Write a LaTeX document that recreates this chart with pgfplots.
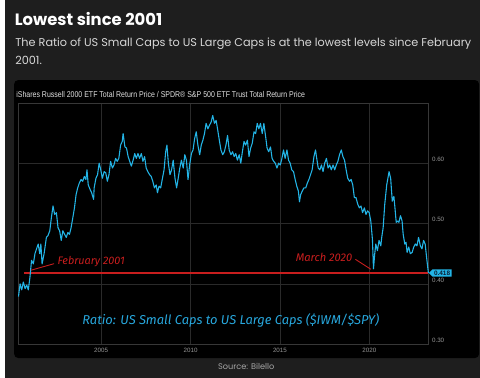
\documentclass[border=0pt]{standalone}
\usepackage{pgfplots}
\pgfplotsset{compat=1.18}
\usepackage{pgfplotstable}
\usepackage{fontspec}
\usepackage{graphicx}
\usetikzlibrary{shapes.symbols}
\setmainfont{Poppins}
\newfontfamily\cond{Liberation Sans}
\newfontfamily\hand{Fira Sans}
\definecolor{bgout}{RGB}{30,30,30}
\definecolor{subc}{RGB}{215,215,215}
\definecolor{headc}{RGB}{225,225,225}
\definecolor{tickc}{RGB}{150,150,150}
\definecolor{gridc}{RGB}{42,42,42}
\definecolor{framec}{RGB}{55,55,55}
\definecolor{linec}{RGB}{35,180,230}
\definecolor{redc}{RGB}{200,30,30}
\definecolor{ratioc}{RGB}{40,168,222}
\definecolor{srcc}{RGB}{165,165,165}
\definecolor{navyc}{RGB}{10,30,50}

\pgfplotstableread{
year value
2000.38 0.379
2000.47 0.400
2000.56 0.390
2000.65 0.403
2000.75 0.392
2000.84 0.398
2000.93 0.390
2001.02 0.411
2001.11 0.439
2001.21 0.433
2001.30 0.450
2001.39 0.458
2001.48 0.466
2001.57 0.450
2001.63 0.466
2001.70 0.433
2001.81 0.450
2001.94 0.477
2002.03 0.480
2002.13 0.488
2002.22 0.510
2002.31 0.529
2002.40 0.515
2002.50 0.518
2002.59 0.493
2002.68 0.488
2002.77 0.472
2002.86 0.488
2002.96 0.482
2003.05 0.477
2003.14 0.485
2003.23 0.482
2003.32 0.493
2003.42 0.510
2003.51 0.526
2003.60 0.548
2003.69 0.559
2003.78 0.567
2003.88 0.573
2003.97 0.570
2004.06 0.578
2004.15 0.573
2004.21 0.589
2004.28 0.564
2004.39 0.556
2004.47 0.551
2004.58 0.540
2004.61 0.559
2004.71 0.575
2004.80 0.581
2004.89 0.600
2004.98 0.589
2005.07 0.575
2005.17 0.586
2005.26 0.584
2005.35 0.570
2005.44 0.581
2005.53 0.603
2005.63 0.592
2005.72 0.597
2005.81 0.608
2005.90 0.603
2005.99 0.608
2006.09 0.630
2006.18 0.636
2006.23 0.649
2006.33 0.627
2006.42 0.625
2006.51 0.611
2006.60 0.603
2006.69 0.595
2006.79 0.605
2006.88 0.616
2006.97 0.608
2007.06 0.616
2007.15 0.608
2007.25 0.616
2007.34 0.603
2007.43 0.611
2007.52 0.592
2007.61 0.586
2007.71 0.581
2007.80 0.578
2007.89 0.570
2007.98 0.559
2008.08 0.564
2008.15 0.551
2008.24 0.562
2008.33 0.559
2008.43 0.575
2008.52 0.589
2008.61 0.619
2008.68 0.630
2008.76 0.600
2008.85 0.581
2008.94 0.589
2009.03 0.605
2009.13 0.575
2009.22 0.559
2009.31 0.575
2009.40 0.592
2009.49 0.605
2009.59 0.592
2009.68 0.614
2009.77 0.605
2009.86 0.573
2009.95 0.597
2010.05 0.616
2010.14 0.622
2010.23 0.641
2010.32 0.652
2010.41 0.630
2010.51 0.614
2010.60 0.630
2010.69 0.638
2010.78 0.649
2010.87 0.666
2010.97 0.657
2011.06 0.663
2011.15 0.668
2011.24 0.679
2011.34 0.666
2011.43 0.671
2011.52 0.655
2011.61 0.638
2011.70 0.622
2011.80 0.614
2011.89 0.619
2011.98 0.630
2012.07 0.646
2012.16 0.622
2012.26 0.614
2012.35 0.619
2012.44 0.611
2012.53 0.616
2012.62 0.605
2012.72 0.614
2012.81 0.600
2012.90 0.619
2012.99 0.636
2013.08 0.630
2013.18 0.638
2013.27 0.611
2013.36 0.625
2013.45 0.633
2013.55 0.652
2013.64 0.649
2013.73 0.666
2013.82 0.657
2013.91 0.666
2014.01 0.649
2014.10 0.666
2014.19 0.646
2014.28 0.625
2014.37 0.619
2014.47 0.627
2014.56 0.608
2014.65 0.603
2014.74 0.600
2014.83 0.592
2014.93 0.600
2015.02 0.597
2015.11 0.608
2015.20 0.622
2015.29 0.608
2015.39 0.622
2015.48 0.605
2015.57 0.600
2015.66 0.589
2015.76 0.586
2015.85 0.573
2015.94 0.562
2016.03 0.554
2016.09 0.536
2016.16 0.548
2016.25 0.554
2016.34 0.559
2016.44 0.559
2016.53 0.567
2016.62 0.573
2016.71 0.581
2016.80 0.589
2016.90 0.611
2016.99 0.622
2017.04 0.611
2017.14 0.592
2017.23 0.589
2017.32 0.597
2017.41 0.586
2017.50 0.600
2017.60 0.608
2017.69 0.592
2017.78 0.597
2017.87 0.589
2017.97 0.597
2018.06 0.589
2018.15 0.597
2018.24 0.603
2018.33 0.614
2018.43 0.622
2018.52 0.611
2018.61 0.605
2018.70 0.589
2018.79 0.575
2018.89 0.570
2018.98 0.573
2019.07 0.564
2019.16 0.543
2019.25 0.543
2019.35 0.532
2019.44 0.526
2019.53 0.529
2019.62 0.518
2019.72 0.526
2019.81 0.515
2019.90 0.521
2019.99 0.518
2020.08 0.504
2020.17 0.474
2020.23 0.425
2020.30 0.450
2020.36 0.466
2020.45 0.455
2020.54 0.472
2020.64 0.463
2020.69 0.477
2020.77 0.493
2020.86 0.532
2020.97 0.564
2021.10 0.586
2021.19 0.575
2021.28 0.537
2021.37 0.545
2021.43 0.526
2021.50 0.502
2021.58 0.504
2021.65 0.502
2021.74 0.513
2021.83 0.504
2021.89 0.482
2021.98 0.466
2022.05 0.469
2022.11 0.452
2022.20 0.461
2022.29 0.450
2022.39 0.452
2022.48 0.461
2022.57 0.466
2022.66 0.463
2022.75 0.477
2022.85 0.463
2022.94 0.458
2023.03 0.472
2023.12 0.466
2023.21 0.441
2023.30 0.418
}\ratiodata

\newsavebox\subbox
\newcommand\subfont{\fontsize{12}{14}\selectfont}

\begin{document}
\sbox\subbox{\color{subc}\subfont The Ratio of US Small Caps to US Large Caps is at the lowest levels since February}
\pgfmathsetmacro\subscale{461/\wd\subbox}
\begin{tikzpicture}
\path[fill=bgout] (0,0) rectangle (480pt,382pt);
\path[fill=black, rounded corners=4pt] (9pt,20pt) rectangle (479pt,301pt);
% title
\node[anchor=west, inner sep=0pt, text=white] at (9.5pt,362.5pt)
  {\resizebox{149pt}{!}{\bfseries Lowest since 2001}};
\node[anchor=west, inner sep=0pt, text=subc] at (10pt,338pt)
  {\scalebox{\subscale}{\usebox\subbox}};
\node[anchor=west, inner sep=0pt, text=subc] at (10pt,321pt)
  {\scalebox{\subscale}{\color{subc}\subfont 2001.}};
\node[anchor=west, inner sep=0pt, text=headc] at (11pt,286pt)
  {\resizebox{292pt}{\height}{\cond\fontsize{8.5}{10}\selectfont iShares Russell 2000 ETF Total Return Price / SPDR\textregistered{} S\&P 500 ETF Trust Total Return Price}};
\node[inner sep=0pt, text=srcc] at (243.6pt,11pt)
  {\resizebox{57pt}{!}{\fontsize{9}{10}\selectfont Source: Bilello}};
\begin{axis}[
  at={(13pt,34pt)}, anchor=south west,
  width=415pt, height=244pt, scale only axis,
  xmin=2000.36, xmax=2023.31, ymin=0.30, ymax=0.70,
  xtick={2005,2010,2015,2020}, xticklabels={2005,2010,2015,2020},
  ytick={0.3,0.4,0.5,0.6}, yticklabels={0.30,0.40,0.50,0.60},
  yticklabel pos=right,
  grid=major,
  major grid style={draw=gridc, line width=0.6pt},
  axis line style={draw=framec, line width=0.6pt},
  tick style={draw=none},
  ticklabel style={font=\cond\fontsize{6.3}{7}\selectfont, text=tickc},
  yticklabel style={anchor=west, yshift=4pt, xshift=0pt},
  clip=false,
]
\addplot[redc, line width=1.8pt] coordinates {(2000.69,0.418) (2023.30,0.418)};
\addplot[linec, line width=1.1pt, line join=round] table[x=year, y=value] {\ratiodata};
\draw[redc, line width=0.9pt] (axis cs:2001.08,0.4226) -- (axis cs:2002.37,0.4334);
\node[anchor=west, inner sep=0pt, text=redc] at (axis cs:2002.55,0.4367)
  {\resizebox{68pt}{!}{\hand\itshape February 2001}};
\draw[redc, line width=0.9pt] (axis cs:2019.22,0.4406) -- (axis cs:2020.08,0.4242);
\node[anchor=east, inner sep=0pt, text=redc] at (axis cs:2019.05,0.4444)
  {\resizebox{57pt}{!}{\hand\itshape March 2020}};
\node[inner sep=0pt, text=ratioc] at (axis cs:2012.25,0.339)
  {\resizebox{300pt}{!}{\hand\itshape Ratio: US Small Caps to US Large Caps (\$IWM/\$SPY)}};
\node[signal, signal to=west, fill=linec, text=navyc, anchor=west,
  inner xsep=1.5pt, inner ysep=1pt, minimum height=7.5pt,
  font=\cond\bfseries\fontsize{6.5}{7}\selectfont] at (axis cs:2023.31,0.418) {0.418};
\end{axis}
\end{tikzpicture}
\end{document}
